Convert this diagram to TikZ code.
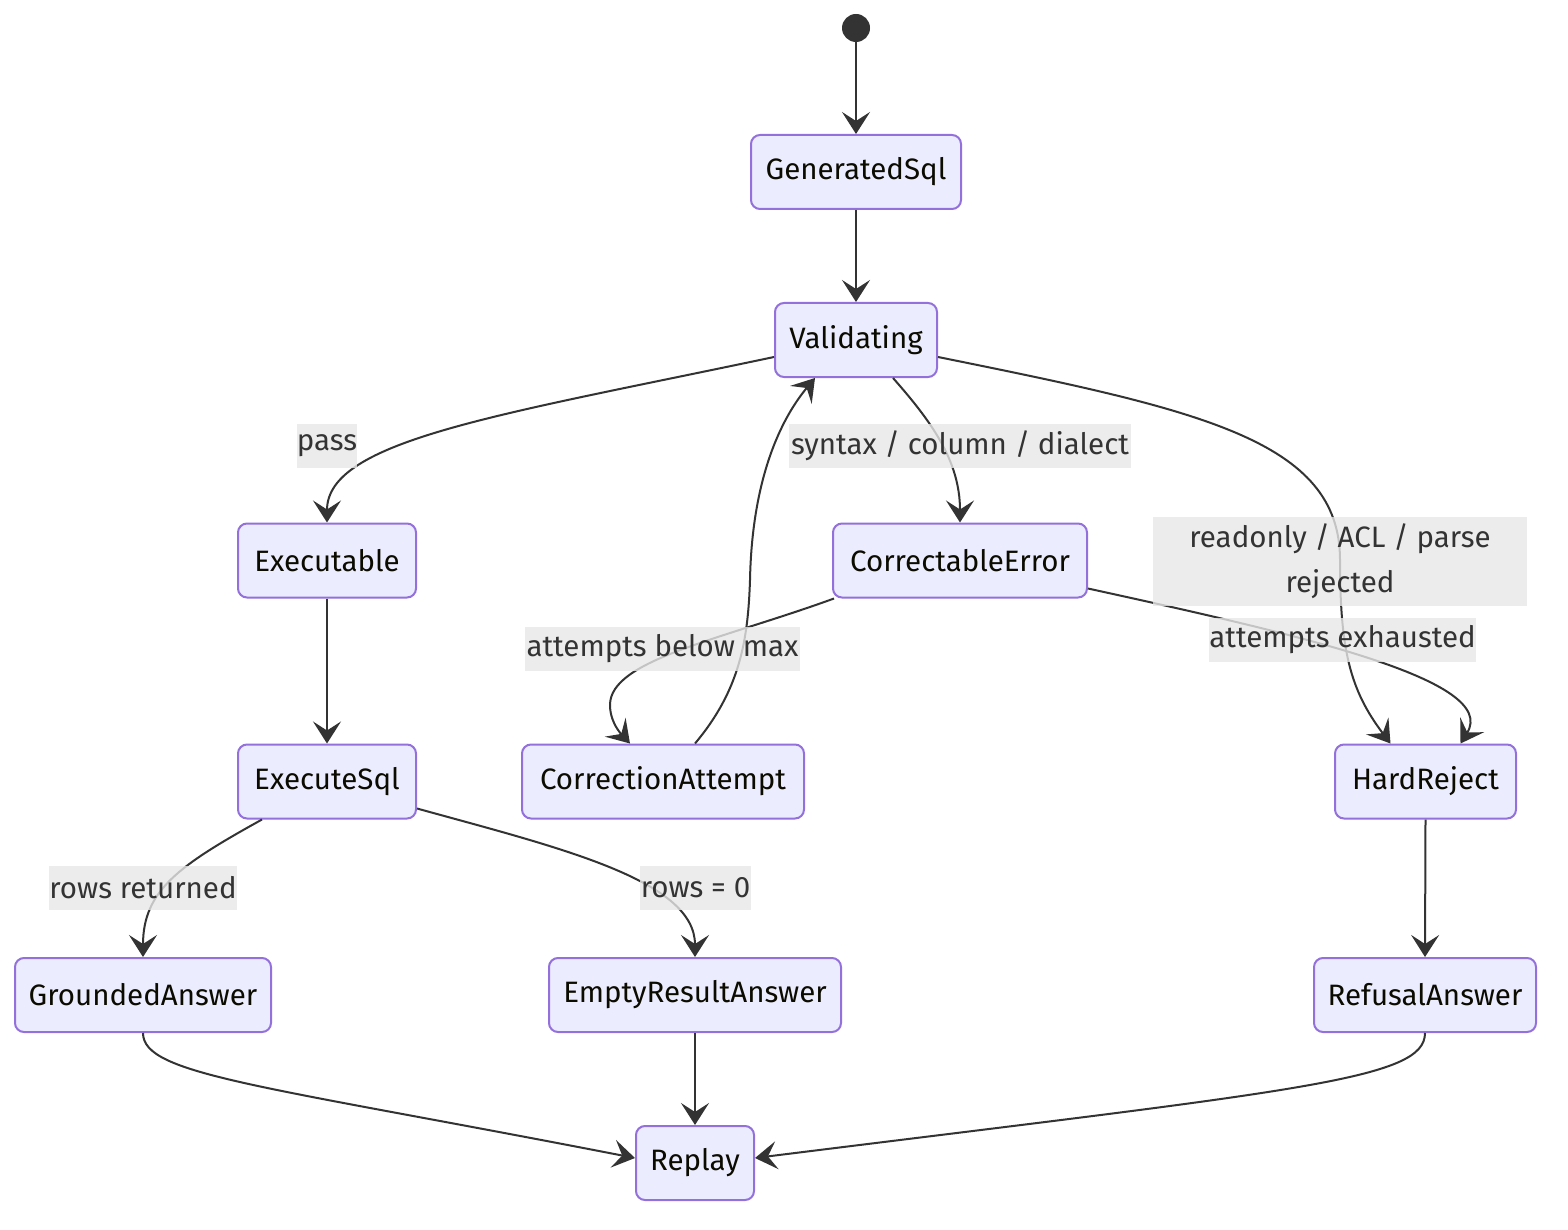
\documentclass[tikz,border=0pt]{standalone}
\usepackage{fontspec}
\setmainfont{Fira Sans}
\usetikzlibrary{arrows.meta}
\definecolor{statefill}{HTML}{ECECFF}
\definecolor{stateborder}{HTML}{9370DB}
\definecolor{edgecol}{HTML}{333333}
\definecolor{labelbg}{HTML}{E8E8E8}
\definecolor{statetext}{HTML}{0B0B00}
\begin{document}
\begin{tikzpicture}[x=1pt,y=-1pt,
  state/.style={draw=stateborder, fill=statefill, rounded corners=9pt, line width=2pt,
    minimum height=74pt, inner sep=0pt, text=statetext, font=\fontsize{29.5}{34}\selectfont},
  elabel/.style={fill=labelbg, fill opacity=0.8, text opacity=1, text=edgecol, inner sep=0pt,
    minimum height=44pt, font=\fontsize{29.5}{45}\selectfont},
  edge/.style={draw=edgecol, line width=2pt, line join=round,
    -{Stealth[length=22pt,width=28pt,inset=9pt]}}]
\useasboundingbox[fill=white] (0,0) rectangle (1568,1230);
% states
\node[circle, fill=edgecol, minimum size=28pt, inner sep=0pt] (S) at (856,28) {};
\node[state, minimum width=210pt] (G) at (856,172) {GeneratedSql};
\node[state, minimum width=162pt] (V) at (856,340) {Validating};
\node[state, minimum width=178pt] (Ex) at (327,560.5) {Executable};
\node[state, minimum width=254pt] (CE) at (960,560.5) {CorrectableError};
\node[state, minimum width=178pt] (ES) at (327,781.5) {ExecuteSql};
\node[state, minimum width=282pt] (CA) at (663,781.5) {CorrectionAttempt};
\node[state, minimum width=181pt] (HR) at (1425.5,781.5) {HardReject};
\node[state, minimum width=256pt] (GA) at (143,995) {GroundedAnswer};
\node[state, minimum width=292pt] (EA) at (695,995) {EmptyResultAnswer};
\node[state, minimum width=222pt] (RA) at (1425,995) {RefusalAnswer};
\node[state, minimum width=118pt] (R) at (695,1163) {Replay};
% edges
\draw[edge] (S.south) -- (G.north);
\draw[edge] (G.south) -- (V.north);
\draw[edge] ([yshift=-17pt]V.west) .. controls (500,415) and (327,440) .. (Ex.north);
\draw[edge] ([xshift=37pt]V.south) .. controls (930,420) and (960,460) .. (CE.north);
\draw[edge] ([yshift=-17pt]V.east) .. controls (1200,410) and (1340,440) .. (1340,560)
   .. controls (1340,650) and (1350,690) .. ([xshift=-35pt]HR.north);
\draw[edge] ([xshift=2pt]CE.south west) .. controls (720,640) and (610,660) .. (610,705)
   .. controls (610,725) and (625,738) .. ([xshift=-33pt]CA.north);
\draw[edge] ([xshift=32pt]CA.north) .. controls (740,690) and (748,640) .. (750,580)
   .. controls (752,480) and (780,420) .. ([xshift=-41pt]V.south);
\draw[edge] ([yshift=-28pt]CE.east) .. controls (1300,635) and (1500,680) .. ([xshift=35pt]HR.north);
\draw[edge] (Ex.south) -- (ES.north);
\draw[edge] ([xshift=-65pt]ES.south) .. controls (180,865) and (143,890) .. (GA.north);
\draw[edge] ([yshift=-27pt]ES.east) .. controls (560,848) and (695,880) .. (EA.north);
\draw[edge] (HR.south) -- (RA.north);
\draw[edge] (GA.south) .. controls (143,1075) and (260,1085) .. ([yshift=5pt]R.west);
\draw[edge] (EA.south) -- (R.north);
\draw[edge] (RA.south) .. controls (1425,1080) and (1300,1090) .. ([yshift=5pt]R.east);
% labels
\node[elabel, minimum width=55pt] (Lpass) at (327,446) {pass};
\node[elabel, minimum width=342pt] (Lsyn) at (960,446) {syntax / column / dialect};
\node[elabel, minimum width=374pt, minimum height=89pt, align=center] (Lro) at (1340,561.5) {readonly / ACL / parse\\rejected};
\node[elabel, minimum width=275pt] (Lbelow) at (662.5,649) {attempts below max};
\node[elabel, minimum width=267pt] (Lexh) at (1342.5,640) {attempts exhausted};
\node[elabel, minimum width=188pt] (Lrows) at (143,887.5) {rows returned};
\node[elabel, minimum width=111pt] (Lzero) at (695.5,887.5) {rows = 0};
\end{tikzpicture}
\end{document}
